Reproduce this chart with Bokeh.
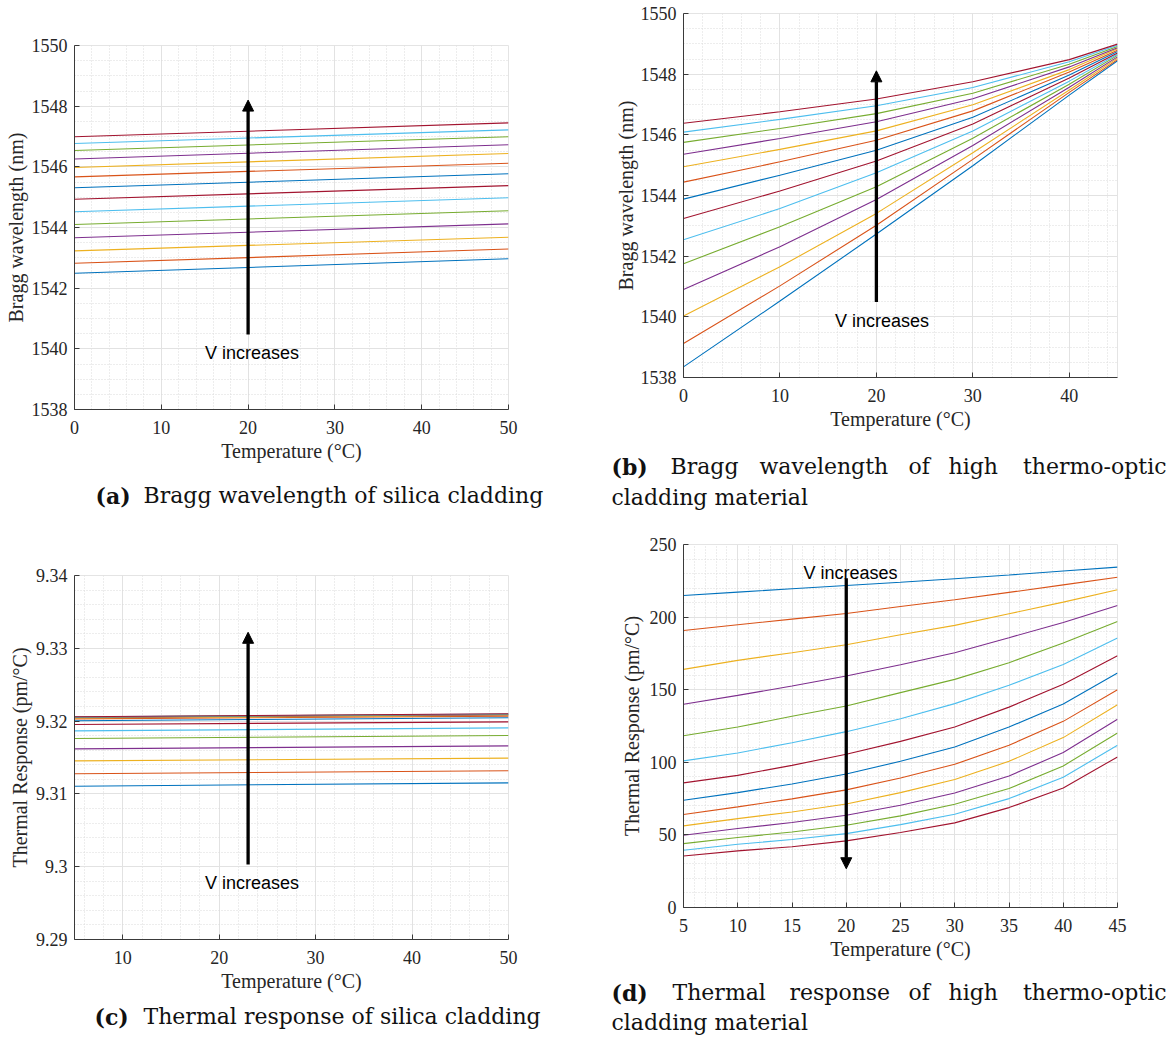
import numpy as np
from bokeh.plotting import figure
from bokeh.layouts import row, column
from bokeh.models import Range1d, FixedTicker, CustomJSTickFormatter, Arrow, NormalHead, Label
from bokeh.core.properties import value
from bokeh.embed import file_html
from bokeh.resources import INLINE

# MATLAB default line colour order
LINE_COLORS = ["#0072BD", "#D95319", "#EDB120", "#7E2F8E", "#77AC30", "#4DBEEE", "#A2142F"]

# ---------------- (a) Bragg wavelength, silica cladding (nm) ----------------
temp_a = [0, 50]
bragg_silica_0C = [1542.49, 1542.82, 1543.23, 1543.66, 1544.10, 1544.52, 1544.93,
                   1545.31, 1545.67, 1545.98, 1546.26, 1546.54, 1546.77, 1546.99]
bragg_silica_50C = [1542.97, 1543.29, 1543.68, 1544.12, 1544.55, 1544.98, 1545.38,
                    1545.77, 1546.12, 1546.44, 1546.73, 1546.99, 1547.22, 1547.45]

# ------------- (b) Bragg wavelength, high thermo-optic cladding (nm) -------------
temp_b = [0, 10, 20, 30, 40, 45]
bragg_hto_by_temp = [
    [1538.35, 1539.12, 1540.03, 1540.90, 1541.75, 1542.54, 1543.24, 1543.88, 1544.44, 1544.95, 1545.36, 1545.75, 1546.09, 1546.38],
    [1540.52, 1541.02, 1541.65, 1542.31, 1542.97, 1543.57, 1544.15, 1544.67, 1545.11, 1545.52, 1545.88, 1546.21, 1546.51, 1546.76],
    [1542.73, 1543.02, 1543.41, 1543.87, 1544.29, 1544.75, 1545.14, 1545.49, 1545.82, 1546.13, 1546.43, 1546.70, 1546.96, 1547.18],
    [1544.98, 1545.19, 1545.41, 1545.65, 1545.89, 1546.13, 1546.36, 1546.58, 1546.79, 1546.99, 1547.19, 1547.37, 1547.56, 1547.75],
    [1547.31, 1547.40, 1547.48, 1547.57, 1547.67, 1547.77, 1547.87, 1547.97, 1548.07, 1548.15, 1548.24, 1548.33, 1548.41, 1548.48],
    [1548.44, 1548.48, 1548.53, 1548.57, 1548.62, 1548.66, 1548.70, 1548.75, 1548.79, 1548.84, 1548.87, 1548.91, 1548.95, 1548.99],
]

# ---------------- (c) Thermal response, silica cladding (pm/°C) ----------------
temp_c = [5, 50]
response_silica_5C = [9.31106, 9.31276, 9.31454, 9.31619, 9.31761, 9.31866, 9.31953,
                      9.32004, 9.32030, 9.32042, 9.32050, 9.32055, 9.32058, 9.32060]
response_silica_50C = [9.31152, 9.31317, 9.31491, 9.31660, 9.31802, 9.31907, 9.31990,
                       9.32045, 9.32068, 9.32080, 9.32088, 9.32094, 9.32097, 9.32100]

# ---------- (d) Thermal response, high thermo-optic cladding (pm/°C) ----------
temp_d = [5, 10, 15, 20, 25, 30, 35, 40, 45]
response_hto_by_temp = [
    [214.9, 190.8, 164.0, 140.0, 118.3, 101.0, 85.8, 73.9, 64.0, 56.2, 49.8, 44.0, 39.4, 35.5],
    [217.2, 194.7, 170.2, 146.1, 124.3, 106.4, 91.0, 79.1, 69.3, 61.2, 54.4, 48.2, 43.6, 39.0],
    [219.5, 198.6, 175.5, 152.5, 131.7, 113.5, 97.9, 85.1, 74.8, 65.8, 58.5, 52.0, 46.8, 41.8],
    [221.8, 202.5, 181.0, 159.4, 138.8, 121.1, 105.5, 92.0, 81.0, 71.3, 63.5, 56.7, 50.9, 45.9],
    [224.0, 207.3, 187.8, 167.2, 148.0, 130.0, 114.4, 100.7, 89.2, 79.1, 70.4, 63.1, 57.1, 51.6],
    [226.4, 211.9, 194.3, 175.5, 157.1, 140.4, 124.3, 110.6, 98.6, 88.1, 78.9, 71.1, 64.2, 58.3],
    [229.0, 217.0, 202.3, 185.8, 168.6, 153.0, 138.0, 124.3, 111.7, 100.7, 90.6, 81.9, 75.0, 68.8],
    [231.7, 222.2, 210.3, 196.3, 182.1, 167.4, 153.7, 140.1, 128.2, 117.0, 106.7, 97.5, 89.7, 82.3],
    [234.4, 227.5, 218.8, 208.0, 197.0, 185.6, 173.4, 161.5, 150.0, 139.7, 129.6, 120.2, 111.7, 103.7],
]

# Tick positions
x_ticks_a = [0, 10, 20, 30, 40, 50]
x_ticks_b = [0, 10, 20, 30, 40]
x_ticks_c = [10, 20, 30, 40, 50]
x_ticks_d = [5, 10, 15, 20, 25, 30, 35, 40, 45]
y_ticks_bragg = [1538, 1540, 1542, 1544, 1546, 1548, 1550]
y_ticks_c = [9.29, 9.30, 9.31, 9.32, 9.33, 9.34]
y_ticks_d = [0, 50, 100, 150, 200, 250]

AXIS_FONT = "Liberation Serif"
CAPTION_FONT = "DejaVu Serif"
ARROW_FONT = "Liberation Sans"
AXIS_COLOR = "#3a3a3a"

fmt = CustomJSTickFormatter(code="return String(Number(tick.toFixed(4)));")


def minor_between(start, stop, step):
    vals = np.round(np.arange(start, stop + step / 2, step), 6)
    return [float(v) for v in vals]


def make_panel(x_rng, y_rng, xt, yt, x_minor, y_minor, ylabel, borders, frame_h, y_label_standoff):
    left, right, top, bottom = borders
    p = figure(frame_width=434, frame_height=frame_h,
               x_range=Range1d(*x_rng), y_range=Range1d(*y_rng),
               min_border_left=left, min_border_right=right,
               min_border_top=top, min_border_bottom=bottom,
               toolbar_location=None, output_backend="svg",
               background_fill_color="white", border_fill_color="white")
    p.outline_line_color = "#e4e4e4"
    xtk = FixedTicker(ticks=xt, minor_ticks=x_minor)
    ytk = FixedTicker(ticks=yt, minor_ticks=y_minor)
    p.xaxis.ticker = xtk
    p.yaxis.ticker = ytk
    p.xgrid.ticker = xtk
    p.ygrid.ticker = ytk
    for g in (p.xgrid, p.ygrid):
        g.grid_line_color = "#e2e2e2"
        g.grid_line_width = 1
        g.minor_grid_line_color = "#dadada"
        g.minor_grid_line_dash = "1 2"
        g.minor_grid_line_width = 1
    for ax in (p.xaxis, p.yaxis):
        ax.formatter = fmt
        ax.axis_line_color = AXIS_COLOR
        ax.major_tick_line_color = AXIS_COLOR
        ax.major_tick_in = 5
        ax.major_tick_out = 0
        ax.minor_tick_in = 0
        ax.minor_tick_out = 0
        ax.minor_tick_line_color = None
        ax.major_label_text_font = AXIS_FONT
        ax.major_label_text_font_size = "18px"
        ax.major_label_text_color = "#262626"
        ax.axis_label_text_font = AXIS_FONT
        ax.axis_label_text_font_size = "20px"
        ax.axis_label_text_font_style = "normal"
        ax.axis_label_text_color = "#262626"
    p.xaxis.axis_label = "Temperature (°C)"
    p.yaxis.axis_label = ylabel
    p.xaxis.major_label_standoff = 11
    p.xaxis.axis_label_standoff = 3
    p.yaxis.major_label_standoff = 7
    p.yaxis.axis_label_standoff = y_label_standoff
    return p


def add_lines(p, x, series):
    for i, ys in enumerate(series):
        p.line(x, list(ys), line_color=LINE_COLORS[i % 7], line_width=1.1)


def add_arrow(p, x, y0, y1, tx, ty):
    p.add_layout(Arrow(end=NormalHead(size=11, fill_color="black", line_color="black", line_width=1),
                       x_start=x, y_start=y0, x_end=x, y_end=y1,
                       line_color="black", line_width=3.3))
    p.add_layout(Label(x=tx, y=ty, text="V increases", text_font=ARROW_FONT,
                       text_font_size="18px", text_color="black",
                       text_align="center", text_baseline="alphabetic"))


def caption(width, height, words):
    # data units = pixels, y measured downward from the caption's top edge
    c = figure(frame_width=width, frame_height=height,
               x_range=Range1d(0, width), y_range=Range1d(height, 0),
               min_border=0, x_axis_location=None, y_axis_location=None,
               toolbar_location=None, output_backend="svg",
               background_fill_color="white", border_fill_color="white")
    c.grid.visible = False
    c.outline_line_color = None
    for x, y, txt, bold, align in words:
        c.text(x=[x], y=[y], text=[txt], text_font=value(CAPTION_FONT), text_font_size="22px",
               text_font_style="bold" if bold else "normal", text_align=align,
               text_baseline="alphabetic", text_color="#111111")
    return c


# (a)  page y 0..470
pa = make_panel((0, 50), (1538, 1550), x_ticks_a, y_ticks_bragg,
                minor_between(0, 50, 2), minor_between(1538, 1550, 0.5),
                "Bragg wavelength (nm)", (74, 82, 45, 61), 364, 2)
add_lines(pa, temp_a, zip(bragg_silica_0C, bragg_silica_50C))
add_arrow(pa, 20, 1540.47, 1548.2, 20.45, 1539.86)

# (b)  page y 0..440
pb = make_panel((0, 45), (1538, 1550), x_ticks_b, y_ticks_bragg,
                minor_between(0, 44, 2), minor_between(1538, 1550, 0.5),
                "Bragg wavelength (nm)", (93, 59, 13, 63), 364, 1)
add_lines(pb, temp_b, np.array(bragg_hto_by_temp).T)
add_arrow(pb, 20, 1540.49, 1548.11, 20.58, 1539.87)

# (c)  page y 530..997
pc = make_panel((5, 50), (9.29, 9.34), x_ticks_c, y_ticks_c,
                minor_between(6, 50, 2), minor_between(9.29, 9.34, 0.002),
                "Thermal Response (pm/°C)", (74, 82, 45, 58), 364, 2)
add_lines(pc, temp_c, zip(response_silica_5C, response_silica_50C))
add_arrow(pc, 23, 9.3003, 9.3322, 23.4, 9.29773)

# (d)  page y 510..965
pd_ = make_panel((5, 45), (0, 250), x_ticks_d, y_ticks_d,
                 minor_between(5, 45, 1), minor_between(0, 250, 10),
                 "Thermal Response (pm/°C)", (93, 59, 34, 58), 363, 4)
add_lines(pd_, temp_d, np.array(response_hto_by_temp).T)
add_arrow(pd_, 20, 226.8, 26.7, 20.4, 230.2)

# Captions (x from each column's left edge, y = baseline from the caption's top)
cap_a = caption(590, 60, [(95, 25, "(a)", True, "left"),
                          (143, 25, "Bragg wavelength of silica cladding", False, "left")])
cap_c = caption(590, 40, [(94, 19, "(c)", True, "left"),
                          (143, 19, "Thermal response of silica cladding", False, "left")])
R = 590
cap_b = caption(586, 70, [(611 - R, 26, "(b)", True, "left"),
                          (670 - R, 26, "Bragg", False, "left"),
                          (759 - R, 26, "wavelength", False, "left"),
                          (908 - R, 26, "of", False, "left"),
                          (948 - R, 26, "high", False, "left"),
                          (1166 - R, 26, "thermo-optic", False, "right"),
                          (611 - R, 57, "cladding material", False, "left")])
cap_d = caption(586, 72, [(611 - R, 27, "(d)", True, "left"),
                          (672 - R, 27, "Thermal", False, "left"),
                          (789 - R, 27, "response", False, "left"),
                          (908 - R, 27, "of", False, "left"),
                          (948 - R, 27, "high", False, "left"),
                          (1166 - R, 27, "thermo-optic", False, "right"),
                          (611 - R, 57, "cladding material", False, "left")])

# each figure in its own row so the column does not align caption frames with plot frames
left_col = column(row(pa), row(cap_a), row(pc), row(cap_c), spacing=0)
right_col = column(row(pb), row(cap_b), row(pd_), row(cap_d), spacing=0)
layout = row(left_col, right_col, spacing=0)

open("out.html", "w").write(file_html(layout, INLINE))
